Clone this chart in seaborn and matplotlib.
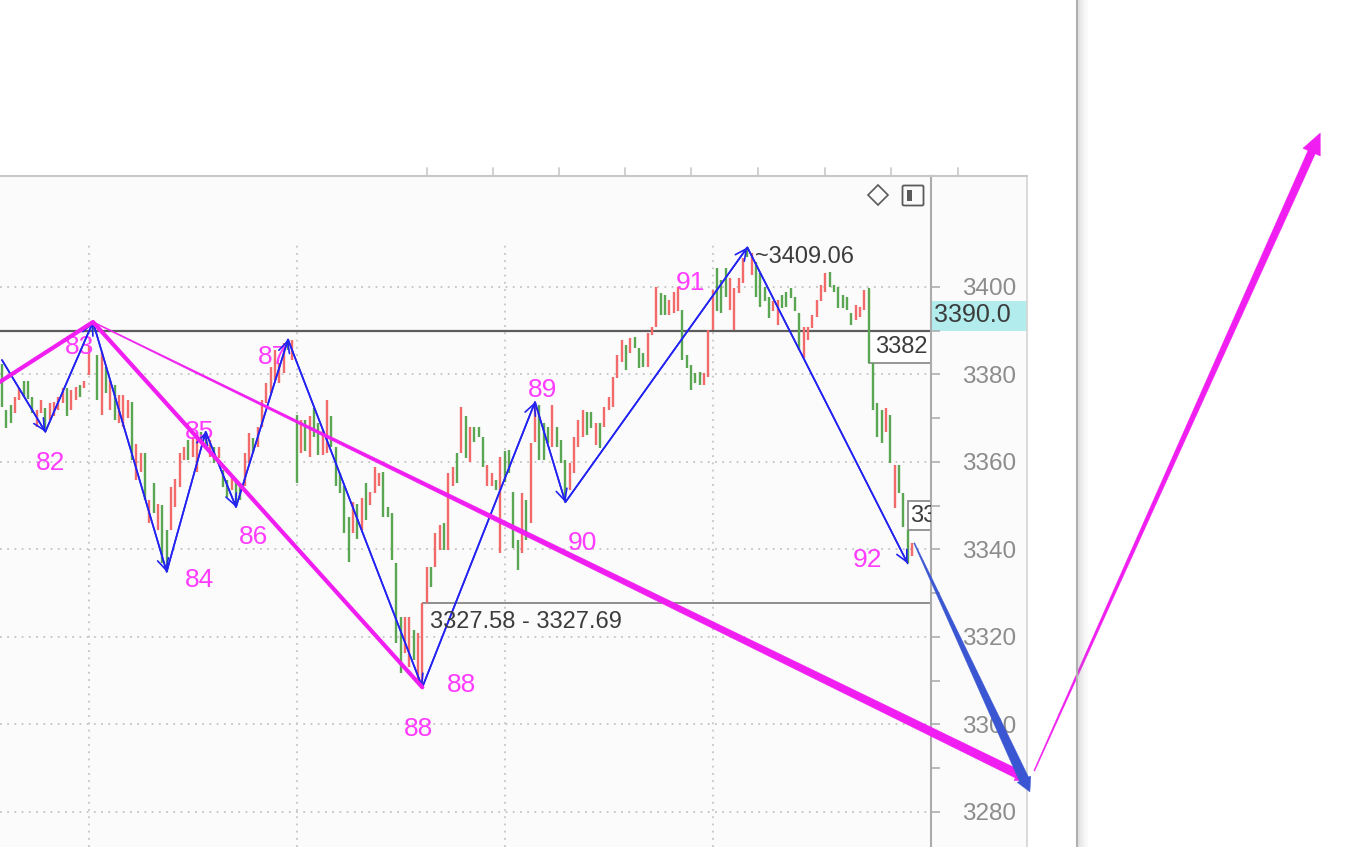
# coding:utf-8
# 5分钟K线 + 笔/线段 截图复刻 (seaborn + matplotlib)
import numpy as np
import matplotlib
matplotlib.use('Agg')
import matplotlib.pyplot as plt
import seaborn as sns
from matplotlib.patches import Polygon, Rectangle, FancyBboxPatch
from matplotlib.lines import Line2D
from matplotlib.transforms import IdentityTransform

# ---------------- data ----------------
# R = 阳线(红), G = 阴线(绿)
bar_color = ("GGGRRGGGRRG" "RRRRGRRGRRG" "GRGRGRRRGRR" "GRGRGGRRRRG"
             "RRGGRGRGGRG" "GRRGRRRRRRR" "GRGRGRGGRRG" "GGGGRGRGRRR"
             "GGGGGRRGRRR" "GRRGRRGRGRG" "GGRRGRGGGGR" "GRRGGGRGGGR"
             "RRRGGRGRRRR" "RGRGGGRRRGG" "RRRGGGGGRRR" "GGGRRRRGRGG"
             "GGRRGGGGGRR" "RRRRGGGGGGR" "RRGGGGRGRGGGR")
highs = [3382.5, 3371.9, 3373.0, 3374.9, 3376.8, 3378.4, 3378.4, 3374.9, 3371.9, 3374.2,
         3372.3, 3373.4, 3373.8, 3374.9, 3376.8, 3376.8, 3376.4, 3377.2, 3377.6, 3378.4,
         3386.4, 3392.0, 3384.5, 3385.2, 3381.8, 3378.7, 3377.6, 3375.3, 3375.3, 3374.2,
         3373.8, 3364.2, 3362.0, 3362.0, 3351.3, 3355.1, 3350.5, 3350.1, 3344.4, 3354.3,
         3356.2, 3362.0, 3363.5, 3365.0, 3365.8, 3365.8, 3366.9, 3366.9, 3365.0, 3363.5,
         3363.5, 3358.1, 3355.9, 3356.6, 3355.9, 3355.1, 3362.0, 3366.6, 3365.4, 3368.1,
         3374.2, 3378.0, 3381.8, 3385.6, 3382.6, 3387.1, 3388.0, 3387.9, 3370.7, 3369.6,
         3369.6, 3370.4, 3372.3, 3368.8, 3367.3, 3374.2, 3370.4, 3363.5, 3357.4, 3354.4,
         3347.5, 3350.9, 3350.5, 3351.7, 3355.1, 3353.2, 3358.9, 3357.4, 3357.8, 3349.8,
         3348.3, 3336.9, 3324.6, 3324.6, 3324.6, 3321.6, 3320.8, 3327.7, 3336.1, 3336.1,
         3343.7, 3345.6, 3346.0, 3357.4, 3358.9, 3362.0, 3372.6, 3370.4, 3368.1, 3368.1,
         3368.1, 3365.8, 3359.3, 3357.4, 3355.9, 3361.2, 3362.4, 3362.7, 3353.2, 3342.2,
         3352.8, 3351.3, 3364.3, 3373.7, 3373.0, 3368.8, 3368.1, 3373.0, 3368.1, 3365.0,
         3360.5, 3359.7, 3365.8, 3369.6, 3371.9, 3371.5, 3371.5, 3368.8, 3368.8, 3372.6,
         3374.9, 3379.5, 3384.5, 3387.9, 3386.7, 3388.3, 3388.6, 3386.0, 3384.8, 3389.4,
         3390.9, 3400.1, 3398.6, 3398.2, 3397.0, 3398.9, 3400.1, 3394.7, 3384.5, 3382.2,
         3380.3, 3380.6, 3380.3, 3390.2, 3399.3, 3404.3, 3401.6, 3404.3, 3402.0, 3399.7,
         3402.0, 3406.6, 3409.1, 3407.7, 3405.8, 3403.1, 3400.1, 3397.8, 3396.7, 3397.0,
         3398.2, 3398.9, 3399.7, 3397.8, 3394.0, 3390.9, 3390.9, 3393.6, 3397.0, 3400.5,
         3403.1, 3403.5, 3400.5, 3400.1, 3398.2, 3397.8, 3394.0, 3395.9, 3395.5, 3399.3,
         3399.7, 3382.6, 3373.4, 3371.9, 3372.3, 3370.7, 3359.3, 3359.3, 3352.8, 3344.4, 3341.4]
lows = [3372.6, 3367.7, 3368.8, 3371.1, 3374.2, 3374.9, 3374.5, 3371.1, 3368.1, 3371.1,
        3366.9, 3369.6, 3370.4, 3371.9, 3373.4, 3370.4, 3371.9, 3374.2, 3374.9, 3376.8,
        3379.9, 3389.8, 3374.2, 3370.7, 3375.7, 3371.9, 3369.6, 3368.8, 3368.1, 3370.0,
        3360.4, 3355.9, 3357.8, 3351.3, 3346.0, 3348.3, 3344.4, 3336.8, 3334.9, 3344.4,
        3349.8, 3354.3, 3360.4, 3360.4, 3361.2, 3357.8, 3364.6, 3364.2, 3361.2, 3359.7,
        3360.8, 3354.3, 3352.0, 3353.6, 3349.7, 3351.3, 3354.4, 3359.7, 3362.0, 3363.5,
        3368.1, 3373.4, 3375.7, 3378.7, 3378.0, 3380.3, 3385.6, 3383.3, 3355.1, 3362.0,
        3362.4, 3361.2, 3365.8, 3361.6, 3361.6, 3362.0, 3363.5, 3354.4, 3352.8, 3343.7,
        3337.2, 3343.7, 3342.5, 3344.5, 3346.7, 3350.2, 3352.8, 3354.4, 3347.5, 3347.5,
        3337.6, 3318.6, 3311.7, 3316.3, 3313.2, 3314.7, 3309.4, 3308.5, 3327.7, 3331.5,
        3336.1, 3339.9, 3339.9, 3339.9, 3354.4, 3355.1, 3362.0, 3361.0, 3360.1, 3364.6,
        3365.8, 3358.9, 3354.4, 3354.4, 3353.6, 3339.1, 3355.5, 3357.4, 3340.3, 3335.3,
        3339.1, 3342.2, 3346.0, 3364.6, 3360.5, 3360.5, 3364.3, 3363.5, 3363.5, 3359.7,
        3350.8, 3353.6, 3357.4, 3363.5, 3365.8, 3366.2, 3367.7, 3363.9, 3363.1, 3368.1,
        3371.9, 3372.6, 3379.1, 3382.9, 3381.0, 3384.8, 3386.0, 3381.4, 3381.8, 3381.8,
        3389.0, 3390.9, 3393.6, 3393.6, 3393.6, 3394.0, 3394.4, 3383.3, 3381.4, 3376.5,
        3378.0, 3377.6, 3377.6, 3379.5, 3390.2, 3394.4, 3394.0, 3397.8, 3394.7, 3390.2,
        3398.6, 3400.8, 3406.9, 3402.7, 3397.8, 3395.5, 3396.7, 3392.8, 3394.4, 3391.3,
        3395.1, 3395.5, 3397.4, 3394.4, 3385.6, 3383.7, 3387.9, 3390.6, 3393.2, 3396.7,
        3398.9, 3400.1, 3398.9, 3395.1, 3395.1, 3394.7, 3391.3, 3392.4, 3393.2, 3394.7,
        3382.6, 3371.9, 3365.8, 3364.3, 3366.9, 3359.7, 3349.4, 3352.8, 3345.2, 3336.8, 3338.4]

# 笔 (blue zigzag) pivots
pivot_name = ['81', '82', '83', '84', '85', '86', '87', '88', '89', '90', '91', '92']
pivot_idx = [0, 10, 21, 38, 47, 54, 66, 97, 123, 130, 172, 209]
pivot_price = [3383.3, 3366.9, 3392.0, 3334.9, 3366.9, 3349.7, 3388.0, 3308.5,
               3373.7, 3350.8, 3409.06, 3336.8]
# 线段 (magenta) pivots
seg_idx = [-0.5, 21, 97]
seg_price = [3378.3, 3392.0, 3308.5]
# hand-drawn projection arrows (bar index, price)
proj_magenta = [(21, 3392.0), (237.2, 3287.3)]
proj_blue = [(210.5, 3341.5), (237.2, 3284.6)]
proj_up = [(238.2, 3289.4), (304.2, 3435.2)]

last_price = 3390.0
peak_text = '3409.06'
range_text = '3327.58 - 3327.69'
range_level, range_bar = 3327.69, 97
box_a_text, box_a_bar = '3382', 200
box_b_text, box_b_bar = '3344', 209
y_major = [3280, 3300, 3320, 3340, 3360, 3380, 3400]
y_minor = [3290, 3310, 3330, 3350, 3370, 3390]
day_start = [20, 68, 116, 164]

# ---------------- style ----------------
sns.set_theme(style='white')
plt.rcParams['font.family'] = ['Liberation Sans', 'DejaVu Sans']
RED, GREEN = '#f26a6a', '#5aa653'
MAG, BLUE, BLUE2 = '#f01ef0', '#2222f2', '#3b56d2'
LBL = '#ff3cff'
TXT = '#3c3c3c'

W, H = 1357, 847
fig = plt.figure(figsize=(W / 100, H / 100), dpi=100, facecolor='white')

# right price panel background
ax2 = fig.add_axes([931 / W, 0, 96 / W, (H - 176) / H], zorder=0)
ax2.set_facecolor('#fbfbfb')
ax2.set_xticks([]); ax2.set_yticks([])
ax2.set_xlim(0, 1)
for s in ['left', 'bottom']:
    ax2.spines[s].set_visible(False)
ax2.spines['top'].set_color('#c8c8c8'); ax2.spines['top'].set_linewidth(1.5)
ax2.spines['right'].set_color('#d4d4d4'); ax2.spines['right'].set_linewidth(1.2)

ax = fig.add_axes([0, 0, 931 / W, (H - 176) / H], zorder=1)
ax.set_facecolor('#fbfbfb')
ax.set_xlim(-0.46, 214.38)
ax.set_ylim(3272.0, 3425.37)
ax2.set_ylim(ax.get_ylim())

# grid
ax.set_yticks(y_major)
ax.set_yticks(y_minor, minor=True)
ax.yaxis.grid(True, which='major', linestyle=(0, (1, 3)), color='#c4c4c4', lw=1.3)
ax.vlines(day_start, ax.get_ylim()[0], 3409.6, linestyles=[(0, (1, 3))],
          colors='#c4c4c4', lw=1.3, zorder=0.5)
ax.set_xticks([])
ax.yaxis.tick_right()
ax.tick_params(axis='y', which='both', length=6.5, width=1.1, color='#a8a8a8',
               pad=16, labelsize=17.5, labelcolor='#8c8c8c', right=True, left=False)
for s in ['left', 'bottom']:
    ax.spines[s].set_visible(False)
ax.spines['top'].set_color('#c8c8c8'); ax.spines['top'].set_linewidth(1.5)
ax.spines['right'].set_color('#ababab'); ax.spines['right'].set_linewidth(1.5)

# last price line + label
ax.axhline(last_price, color='#5c5c5c', lw=1.6, zorder=2)
ax2.add_patch(Rectangle((0, last_price), 1, 6.9, fc='#b2ecec', ec='none', zorder=2))
ax2.text(0.03, last_price + 3.5, f'{last_price:.1f}', fontsize=18, color=TXT,
         va='center', ha='left', zorder=3)

# boxes / brackets
xr = ax.get_xlim()[1]
ax.add_patch(Rectangle((box_a_bar, lows[box_a_bar]), xr - box_a_bar,
                       last_price - lows[box_a_bar], fc='white', ec='#8e8e8e',
                       lw=1.3, zorder=1.5))
ax.text(box_a_bar + 1.4, (last_price + lows[box_a_bar]) / 2, box_a_text, fontsize=17,
        color=TXT, va='center', ha='left', zorder=4)
ax.add_patch(Rectangle((box_b_bar, highs[box_b_bar]), xr - box_b_bar, 6.6,
                       fc='white', ec='#8e8e8e', lw=1.3, zorder=1.5))
ax.text(box_b_bar + 0.5, highs[box_b_bar] + 3.3, box_b_text, fontsize=17,
        color=TXT, va='center', ha='left', zorder=4, clip_on=True)
ax.hlines(range_level, range_bar, xr, color='#8e8e8e', lw=1.4, zorder=1.5)
ax.text(range_bar + 1.8, range_level - 4.3, range_text, fontsize=17, color=TXT,
        va='center', ha='left', zorder=4)
ax.text(pivot_idx[10] + 1.8, pivot_price[10] - 2.2, '~' + peak_text, fontsize=17,
        color=TXT, va='center', ha='left', zorder=4)

# K-line bars
xs = np.arange(len(highs))
cols = [RED if c == 'R' else GREEN for c in bar_color]
ax.vlines(xs, lows, highs, colors=cols, lw=1.7, zorder=2)

# pivot labels (offsets in pixels)
label_offsets = {'82': [(5, -31)], '83': [(-13, -25)], '84': [(33, -8)], '85': [(-6, 0)],
                 '86': [(17, -30)], '87': [(-15, -18)], '88': [(39, 2), (-4, -42)],
                 '89': [(8, 12)], '90': [(17, -41)], '91': [(-57, -36)], '92': [(-40, 3)]}
for name, i, p in zip(pivot_name, pivot_idx, pivot_price):
    for dx, dy in label_offsets.get(name, []):
        ax.annotate(name, (i, p), xytext=(dx, dy), textcoords='offset pixels',
                    ha='center', va='center', fontsize=19, color=LBL, zorder=2.5)

# 笔 zigzag with arrow heads
sns.lineplot(x=pivot_idx, y=pivot_price, sort=False, ax=ax, color=BLUE, lw=1.2,
             zorder=3, estimator=None)
for k in range(1, len(pivot_idx)):
    ax.annotate('', xy=(pivot_idx[k], pivot_price[k]),
                xytext=(pivot_idx[k - 1], pivot_price[k - 1]),
                arrowprops=dict(arrowstyle='->,head_length=0.4,head_width=0.2',
                                color=BLUE, lw=1.2, shrinkA=0, shrinkB=0,
                                mutation_scale=20), zorder=3)

# 线段 magenta
sns.lineplot(x=seg_idx, y=seg_price, sort=False, ax=ax, color=MAG, lw=3,
             zorder=3.5, estimator=None)


def taper_arrow(p0, p1, w0, w1, hw, hl, color, z=6):
    a = ax.transData.transform(p0)
    b = ax.transData.transform(p1)
    d = b - a
    u = d / np.hypot(*d)
    n = np.array([-u[1], u[0]])
    base = b - u * hl
    pts = [a + n * w0 / 2, base + n * w1 / 2, base + n * hw / 2, b,
           base - n * hw / 2, base - n * w1 / 2, a - n * w0 / 2]
    fig.add_artist(Polygon(pts, closed=True, fc=color, ec=color, lw=0.3,
                           transform=IdentityTransform(), zorder=z))


taper_arrow(proj_magenta[0], proj_magenta[1], 1.0, 9, 15, 14, MAG)
taper_arrow(proj_blue[0], proj_blue[1], 1.0, 10, 15, 14, BLUE2, z=6.5)
taper_arrow(proj_up[0], proj_up[1], 1.0, 8, 19, 21, MAG)

# window chrome: time-axis ticks, icons, separator
for x in [427, 493, 559, 625, 691, 758, 825, 891, 958]:
    fig.add_artist(Line2D([x, x], [H - 168, H - 176], color='#c8c8c8', lw=1.2,
                          transform=IdentityTransform(), zorder=10))
fig.add_artist(Line2D([878], [H - 195], marker='D', ms=10, mfc='none', mec='#5a5a5a',
                      mew=1.2, transform=IdentityTransform(), zorder=10))
fig.add_artist(FancyBboxPatch((904, H - 204), 18, 17, boxstyle='round,pad=1.5',
                              fc='none', ec='#5a5a5a', lw=1.3,
                              transform=IdentityTransform(), zorder=10))
fig.add_artist(Rectangle((907, H - 201), 5, 11, fc='#5a5a5a', ec='none',
                         transform=IdentityTransform(), zorder=10))
fig.add_artist(Line2D([1077, 1077], [0, H], color='#b0b0b0', lw=1.5,
                      transform=IdentityTransform(), zorder=10))
for k, a in enumerate([0.25, 0.18, 0.12, 0.07, 0.04]):
    fig.add_artist(Line2D([1079 + 2 * k, 1079 + 2 * k], [0, H], color='#909090', lw=1.5,
                          alpha=a, transform=IdentityTransform(), zorder=10))

fig.savefig('out.png', dpi=100, facecolor='white')
